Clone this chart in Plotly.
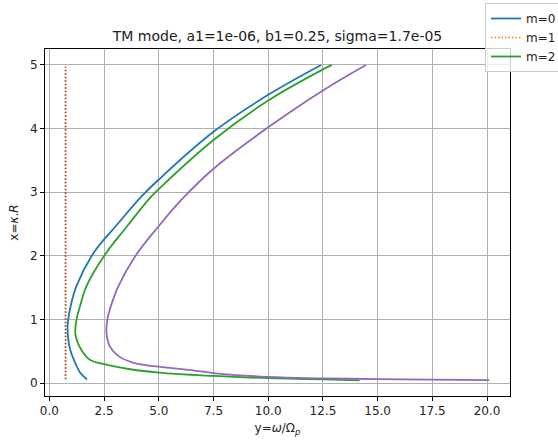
import plotly.graph_objects as go

# m=0 (blue)
m0_x = [12.42, 10.0, 7.5, 5.0, 4.17, 3.04, 2.5, 1.93, 1.24, 0.97, 0.86, 0.83, 0.86, 0.95, 1.18, 1.40, 1.72]
m0_y = [5.0, 4.53, 3.95, 3.2, 2.92, 2.47, 2.26, 2.0, 1.53, 1.21, 1.0, 0.87, 0.7, 0.53, 0.32, 0.17, 0.06]

# m=1 (dotted, orange) and overlapping dotted brown line
m1_x = [0.74, 0.74, 0.74]
m1_y = [0.065, 2.5, 4.97]
m1b_x = [0.74, 0.74, 0.74]
m1b_y = [0.065, 2.5, 4.97]

# m=2 (green)
m2_x = [12.9, 10.0, 7.5, 5.0, 4.62, 3.56, 2.5, 1.70, 1.40, 1.24, 1.18, 1.24, 1.45, 1.83, 2.5, 3.69, 5.0, 7.5, 10.0, 12.5, 14.18]
m2_y = [5.0, 4.44, 3.82, 3.05, 2.92, 2.47, 2.0, 1.53, 1.21, 1.0, 0.8, 0.69, 0.53, 0.375, 0.30, 0.22, 0.167, 0.115, 0.08, 0.06, 0.045]

# m=3 (purple)
m3_x = [14.47, 12.5, 10.0, 7.5, 6.03, 5.0, 3.93, 3.16, 2.81, 2.65, 2.61, 2.76, 3.15, 3.85, 5.0, 6.64, 7.5, 10.0, 12.5, 15.0, 17.5, 20.1]
m3_y = [5.0, 4.6, 4.02, 3.37, 2.88, 2.47, 2.0, 1.53, 1.21, 1.0, 0.79, 0.58, 0.43, 0.32, 0.26, 0.20, 0.16, 0.10, 0.078, 0.066, 0.058, 0.05]

x_ticks = [0.0, 2.5, 5.0, 7.5, 10.0, 12.5, 15.0, 17.5, 20.0]
y_ticks = [0, 1, 2, 3, 4, 5]

spline = dict(shape="spline", smoothing=1.1)
dotdash = "1.5px,2px"
fig = go.Figure()
fig.add_trace(go.Scatter(x=m0_x, y=m0_y, mode="lines", name="m=0",
                         line=dict(color="#1f77b4", width=1.8, **spline)))
fig.add_trace(go.Scatter(x=m1_x, y=m1_y, mode="lines", name="m=1",
                         line=dict(color="#ff7f0e", width=1.6, dash=dotdash)))
fig.add_trace(go.Scatter(x=m2_x, y=m2_y, mode="lines", name="m=2",
                         line=dict(color="#2ca02c", width=1.8, **spline)))
fig.add_trace(go.Scatter(x=m3_x, y=m3_y, mode="lines", name="m=3", showlegend=False,
                         line=dict(color="#9467bd", width=1.8, **spline)))
fig.add_trace(go.Scatter(x=m1b_x, y=m1b_y, mode="lines", name="m=4", showlegend=False,
                         line=dict(color="#9a4b3e", width=1.6, dash=dotdash)))

font_family = "DejaVu Sans"
fig.update_layout(
    width=558, height=443,
    margin=dict(l=45, r=48, t=49, b=47, autoexpand=False),
    paper_bgcolor="white", plot_bgcolor="white",
    font=dict(family=font_family, size=12, color="#222222"),
    title=dict(text="TM mode, a1=1e-06, b1=0.25, sigma=1.7e-05",
               x=(45 + 510) / 2 / 558, xanchor="center",
               y=1 - 36 / 443, yanchor="middle",
               font=dict(family=font_family, size=14, color="#222222")),
    legend=dict(xref="container", yref="container",
                x=485 / 558, y=1 - 3 / 443, xanchor="left", yanchor="top",
                bgcolor="rgba(255,255,255,0.8)", bordercolor="#cccccc", borderwidth=1,
                font=dict(family=font_family, size=12, color="#222222"),
                itemwidth=30, tracegroupgap=0),
    showlegend=True,
)
fig.update_xaxes(
    range=[-0.2, 21.05], tickvals=x_ticks, ticktext=[f"{v:.1f}" for v in x_ticks],
    showgrid=True, gridcolor="#b0b0b0", gridwidth=1,
    showline=True, linecolor="black", linewidth=1, mirror=True,
    ticks="outside", ticklen=4, tickcolor="black",
    zeroline=False,
    title=dict(text="y=<i>ω</i>/Ω<sub><i>p</i></sub>", standoff=6,
               font=dict(family=font_family, size=12, color="#222222")),
)
fig.update_yaxes(
    range=[-0.2, 5.25], tickvals=y_ticks, ticktext=[str(v) for v in y_ticks],
    showgrid=True, gridcolor="#b0b0b0", gridwidth=1,
    showline=True, linecolor="black", linewidth=1, mirror=True,
    ticks="outside", ticklen=4, tickcolor="black",
    zeroline=False,
    title=dict(text="x=<i>κ</i>.<i>R</i>", standoff=8,
               font=dict(family=font_family, size=12, color="#222222")),
)

fig.write_html("out.html")
